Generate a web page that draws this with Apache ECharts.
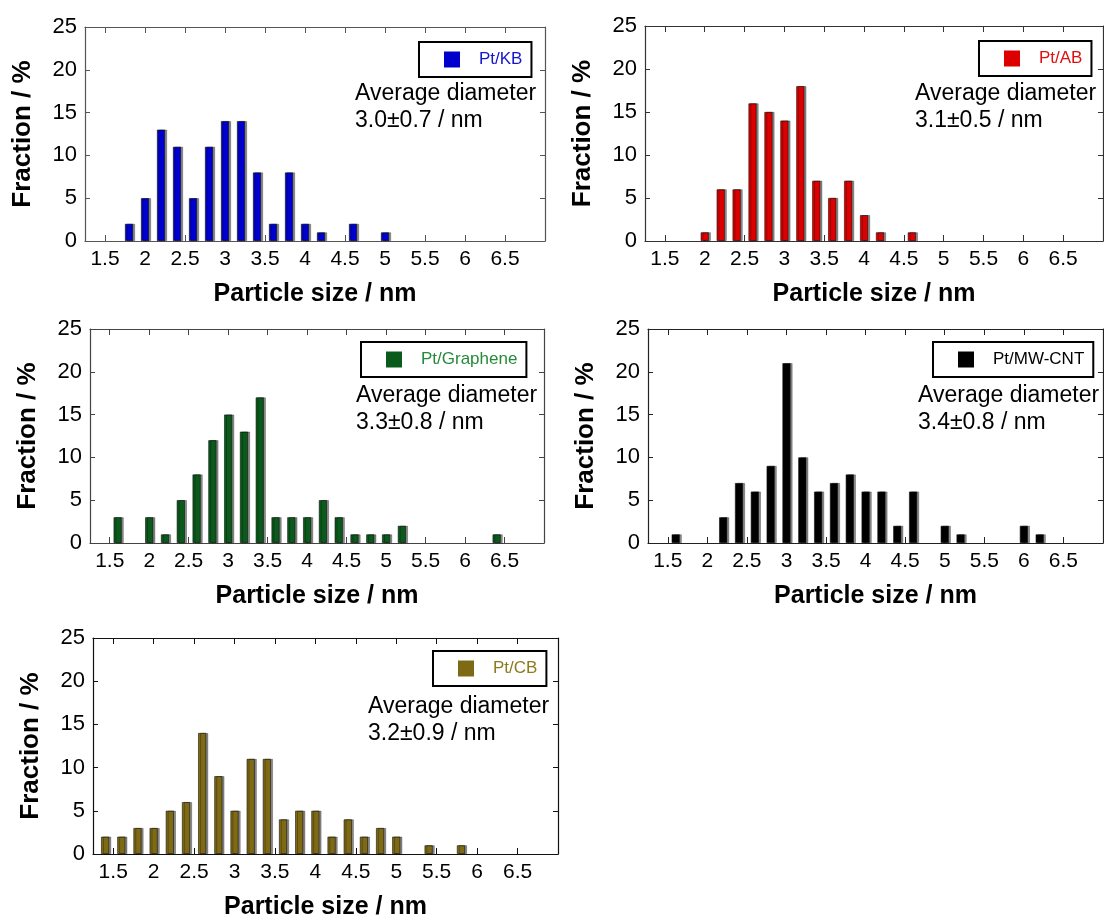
<!DOCTYPE html>
<html>
<head>
<meta charset="utf-8">
<script src="https://cdn.jsdelivr.net/npm/echarts@6/dist/echarts.min.js"></script>
<style>
  html, body { margin: 0; padding: 0; background: #fff; }
  #chart { width: 1104px; height: 921px; }
</style>
</head>
<body>
<div id="chart"></div>
<script>
// Particle size bin centres (nm), shared by all five histograms
const particleSizes = [1.4, 1.6, 1.8, 2.0, 2.2, 2.4, 2.6, 2.8, 3.0, 3.2, 3.4, 3.6, 3.8,
                       4.0, 4.2, 4.4, 4.6, 4.8, 5.0, 5.2, 5.4, 5.6, 5.8, 6.0, 6.2, 6.4];

// Fraction (%) in each bin
const fractionKB       = [0, 0, 2, 5, 13, 11, 5, 11, 14, 14, 8, 2, 8, 2, 1, 0, 2, 0, 1, 0, 0, 0, 0, 0, 0, 0];
const fractionAB       = [0, 0, 0, 1, 6, 6, 16, 15, 14, 18, 7, 5, 7, 3, 1, 0, 1, 0, 0, 0, 0, 0, 0, 0, 0, 0];
const fractionGraphene = [0, 3, 0, 3, 1, 5, 8, 12, 15, 13, 17, 3, 3, 3, 5, 3, 1, 1, 1, 2, 0, 0, 0, 0, 0, 1];
const fractionMWCNT    = [0, 1, 0, 0, 3, 7, 6, 9, 21, 10, 6, 7, 8, 6, 6, 2, 6, 0, 2, 1, 0, 0, 0, 2, 1, 0];
const fractionCB       = [2, 2, 3, 3, 5, 6, 14, 9, 5, 11, 11, 4, 5, 5, 2, 4, 2, 3, 2, 0, 1, 0, 1, 0, 0, 0];

const sampleNames  = ['Pt/KB', 'Pt/AB', 'Pt/Graphene', 'Pt/MW-CNT', 'Pt/CB'];
const averageTexts = ['3.0\u00B10.7 / nm', '3.1\u00B10.5 / nm', '3.3\u00B10.8 / nm', '3.4\u00B10.8 / nm', '3.2\u00B10.9 / nm'];
const xTickValues  = [1.5, 2, 2.5, 3, 3.5, 4, 4.5, 5, 5.5, 6, 6.5];
const yTickValues  = [0, 5, 10, 15, 20, 25];

const fractions = [fractionKB, fractionAB, fractionGraphene, fractionMWCNT, fractionCB];

// Panel placement and colours
const layout = [
  { grid: { left: 85,  top: 27,  width: 460, height: 214 }, legend: { left: 419, top: 42 },  note: { left: 355, top: 80 },  bar: '#0000CC', text: '#1515CC', frame: '#555' },
  { grid: { left: 645, top: 26,  width: 458, height: 215 }, legend: { left: 979, top: 41 },  note: { left: 915, top: 80 },  bar: '#DD0000', text: '#E01010', frame: '#333' },
  { grid: { left: 90,  top: 329, width: 454, height: 214 }, legend: { left: 361, top: 342 }, note: { left: 356, top: 382 }, bar: '#0A5A1C', text: '#268A3A', frame: '#444' },
  { grid: { left: 648, top: 329, width: 455, height: 214 }, legend: { left: 933, top: 342 }, note: { left: 918, top: 382 }, bar: '#000000', text: '#000000', frame: '#222' },
  { grid: { left: 93,  top: 638, width: 465, height: 218 }, legend: { left: 433, top: 651 }, note: { left: 368, top: 693 }, bar: '#7E6914', text: '#8C7A1E', frame: '#111' }
];

const FONT = "'Liberation Sans', Arial, Helvetica, sans-serif";

const grids = [], xAxes = [], yAxes = [], series = [], legends = [], graphics = [];

layout.forEach((p, i) => {
  grids.push(Object.assign({ containLabel: false }, p.grid));

  const line = { show: true, onZero: false, lineStyle: { color: p.frame, width: 1.2 } };

  // bottom axis with labels
  xAxes.push({
    gridIndex: i, type: 'value', position: 'bottom', min: 1.25, max: 7.0,
    axisLine: line,
    axisTick: { show: true, inside: true, length: 6, customValues: xTickValues, lineStyle: { color: p.frame } },
    axisLabel: { customValues: xTickValues, color: '#000', fontSize: 21, fontFamily: FONT, margin: 8 },
    splitLine: { show: false },
    name: 'Particle size / nm', nameLocation: 'middle', nameGap: 41,
    nameTextStyle: { color: '#000', fontSize: 25, fontWeight: 'bold', fontFamily: FONT }
  });
  // top frame axis, ticks only
  xAxes.push({
    gridIndex: i, type: 'value', position: 'top', min: 1.25, max: 7.0,
    axisLine: line,
    axisTick: { show: true, inside: true, length: 6, customValues: xTickValues, lineStyle: { color: p.frame } },
    axisLabel: { show: false }, splitLine: { show: false }
  });
  // left axis with labels
  yAxes.push({
    gridIndex: i, type: 'value', position: 'left', min: 0, max: 25, interval: 5,
    axisLine: line,
    axisTick: { show: true, inside: true, length: 5, lineStyle: { color: p.frame } },
    axisLabel: { color: '#000', fontSize: 22, fontFamily: FONT, margin: 8 },
    splitLine: { show: false },
    name: 'Fraction / %', nameLocation: 'middle', nameGap: 49,
    nameTextStyle: { color: '#000', fontSize: 26, fontWeight: 'bold', fontFamily: FONT }
  });
  // right frame axis, ticks only
  yAxes.push({
    gridIndex: i, type: 'value', position: 'right', min: 0, max: 25, interval: 5,
    axisLine: line,
    axisTick: { show: true, inside: true, length: 5, lineStyle: { color: p.frame } },
    axisLabel: { show: false }, splitLine: { show: false }
  });

  const data = particleSizes.map((s, k) => fractions[i][k] > 0 ? [s, fractions[i][k]] : [s, '-']);

  series.push({
    name: sampleNames[i], type: 'bar',
    xAxisIndex: i * 2, yAxisIndex: i * 2,
    barWidth: 8,
    data: data,
    itemStyle: {
      color: p.bar, borderColor: '#111', borderWidth: 0.6,
      shadowColor: 'rgba(0,0,0,0.45)', shadowOffsetX: 2, shadowOffsetY: 0, shadowBlur: 0
    },
    emphasis: { disabled: true },
    animation: false
  });

  legends.push({
    data: [sampleNames[i]], left: p.legend.left, top: p.legend.top,
    icon: 'rect', itemWidth: 16, itemHeight: 16,
    padding: [9, 9, 9, 25],
    borderColor: '#000', borderWidth: 2, backgroundColor: '#fff',
    selectedMode: false,
    itemStyle: { borderWidth: 0, shadowColor: 'rgba(0,0,0,0)', shadowOffsetX: 0 },
    textStyle: { color: p.text, fontSize: 17, fontFamily: FONT, padding: [0, 0, 0, 14] }
  });

  graphics.push({
    type: 'text', left: p.note.left, top: p.note.top,
    style: {
      text: 'Average diameter\n' + averageTexts[i],
      font: '23px ' + FONT, fill: '#000', lineHeight: 27
    }
  });
});

const chart = echarts.init(document.getElementById('chart'), null, { renderer: 'canvas' });
chart.setOption({
  animation: false,
  backgroundColor: '#fff',
  grid: grids,
  xAxis: xAxes,
  yAxis: yAxes,
  legend: legends,
  series: series,
  graphic: graphics
});
</script>
</body>
</html>
